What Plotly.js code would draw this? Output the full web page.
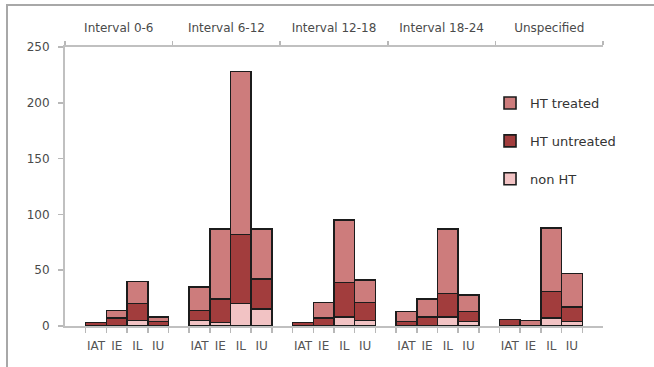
<!DOCTYPE html>
<html>
<head>
<meta charset="utf-8">
<script src="https://cdn.plot.ly/plotly-3.0.1.min.js"></script>
<style>
  html, body { margin: 0; padding: 0; background: #fff; }
  #wrap { position: relative; width: 654px; height: 367px; overflow: hidden; }
  #chart { width: 654px; height: 367px; }
  #frame { position: absolute; left: 6px; top: 4px; right: -4px; bottom: -4px;
           border-left: 2px solid #a8a8a8; border-top: 2px solid #a8a8a8; pointer-events: none; }
</style>
</head>
<body>
<div id="wrap">
  <div id="chart"></div>
  <div id="frame"></div>
</div>
<script>
// Groups (top axis) and sub-categories (bottom axis)
const groups = ['Interval 0-6', 'Interval 6-12', 'Interval 12-18', 'Interval 18-24', 'Unspecified'];
const subs = ['IAT', 'IE', 'IL', 'IU'];

// Counts per group, in sub-category order IAT, IE, IL, IU
const nonHT       = [0, 0, 5, 0,   5, 3, 20, 15,   0, 0, 8, 5,    0, 0, 8, 4,    0, 0, 7, 4];
const htUntreated = [3, 7, 15, 4,  9, 21, 62, 27,  3, 7, 31, 16,  4, 8, 21, 9,   6, 0, 24, 13];
const htTreated   = [0, 7, 20, 4,  21, 63, 146, 45, 0, 14, 56, 20, 9, 16, 58, 15, 0, 5, 57, 30];

const seriesNames = ['non HT', 'HT untreated', 'HT treated'];
const seriesColors = ['#f2c3c4', '#a23d3d', '#cd7c7c'];

// Each group occupies five slots: four bars followed by an empty slot,
// with one leading empty slot before the first group.
const slot = (g, i) => 1 + 5 * g + i;
const xs = [], tickText = [], edges = [];
groups.forEach((g, gi) => {
  subs.forEach((s, si) => { xs.push(slot(gi, si)); tickText.push(s); });
  for (let k = 0; k <= subs.length; k++) edges.push(slot(gi, 0) - 0.5 + k);
});

const seriesValues = [nonHT, htUntreated, htTreated];
const traces = seriesValues.map((vals, k) => ({
  type: 'bar',
  x: xs,
  y: vals,
  name: seriesNames[k],
  legendgroup: 'g' + k,
  legendrank: 1000 - k,          // top of the stack listed first
  width: 1,
  marker: { color: seriesColors[k], line: { color: '#1c1c1c', width: 1.6 } },
  hoverinfo: 'skip'
}));

// Invisible trace that keeps the top group axis active
traces.push({
  type: 'bar', x: groups.map((g, i) => i + 0.5), y: groups.map(() => null),
  xaxis: 'x2', yaxis: 'y', showlegend: false, hoverinfo: 'skip'
});

const axisFont = { family: 'DejaVu Sans, Verdana, sans-serif', size: 12, color: '#4a4a4a' };
const nSlots = 1 + 5 * groups.length;

const layout = {
  width: 654, height: 367,
  margin: { l: 65, r: 51, t: 47, b: 41 },
  paper_bgcolor: '#fff', plot_bgcolor: '#fff',
  barmode: 'stack', bargap: 0,
  showlegend: true,
  legend: {
    x: 0.79, y: 0.853, xanchor: 'left', yanchor: 'top',
    traceorder: 'grouped', tracegroupgap: 18,
    font: { family: 'DejaVu Sans, Verdana, sans-serif', size: 13, color: '#333' },
    bgcolor: 'rgba(0,0,0,0)'
  },
  xaxis: {
    range: [-0.5, nSlots - 0.5],
    tickmode: 'array', tickvals: xs, ticktext: tickText,
    ticks: '', ticklabelstandoff: 8,
    tickfont: Object.assign({}, axisFont, { color: '#555' }),
    minor: { tickmode: 'array', tickvals: edges, ticks: 'outside', ticklen: 5, tickcolor: '#b8b8b8', tickwidth: 1.5 },
    showline: true, linecolor: '#c0c0c0', linewidth: 2,
    showgrid: false, zeroline: false, fixedrange: true
  },
  xaxis2: {
    overlaying: 'x', side: 'top', anchor: 'y',
    range: [0, groups.length],
    tickmode: 'array', tickvals: groups.map((g, i) => i + 0.5), ticktext: groups,
    ticks: '', ticklabelstandoff: 8,
    tickfont: axisFont,
    minor: { tickmode: 'array', tickvals: groups.map((g, i) => i).concat([groups.length]),
             ticks: 'outside', ticklen: 4, tickcolor: '#b8b8b8', tickwidth: 1.5 },
    showline: true, linecolor: '#c0c0c0', linewidth: 2,
    showgrid: false, zeroline: false, fixedrange: true
  },
  yaxis: {
    range: [0, 250], tickmode: 'linear', tick0: 0, dtick: 50,
    ticks: 'outside', ticklen: 5, tickcolor: '#b8b8b8', tickwidth: 1.5,
    ticklabelstandoff: 6,
    tickfont: axisFont,
    showline: true, linecolor: '#c0c0c0', linewidth: 2,
    showgrid: false, zeroline: false, fixedrange: true
  },
  hovermode: false
};

Plotly.newPlot('chart', traces, layout, { displayModeBar: false, staticPlot: true });
</script>
</body>
</html>
